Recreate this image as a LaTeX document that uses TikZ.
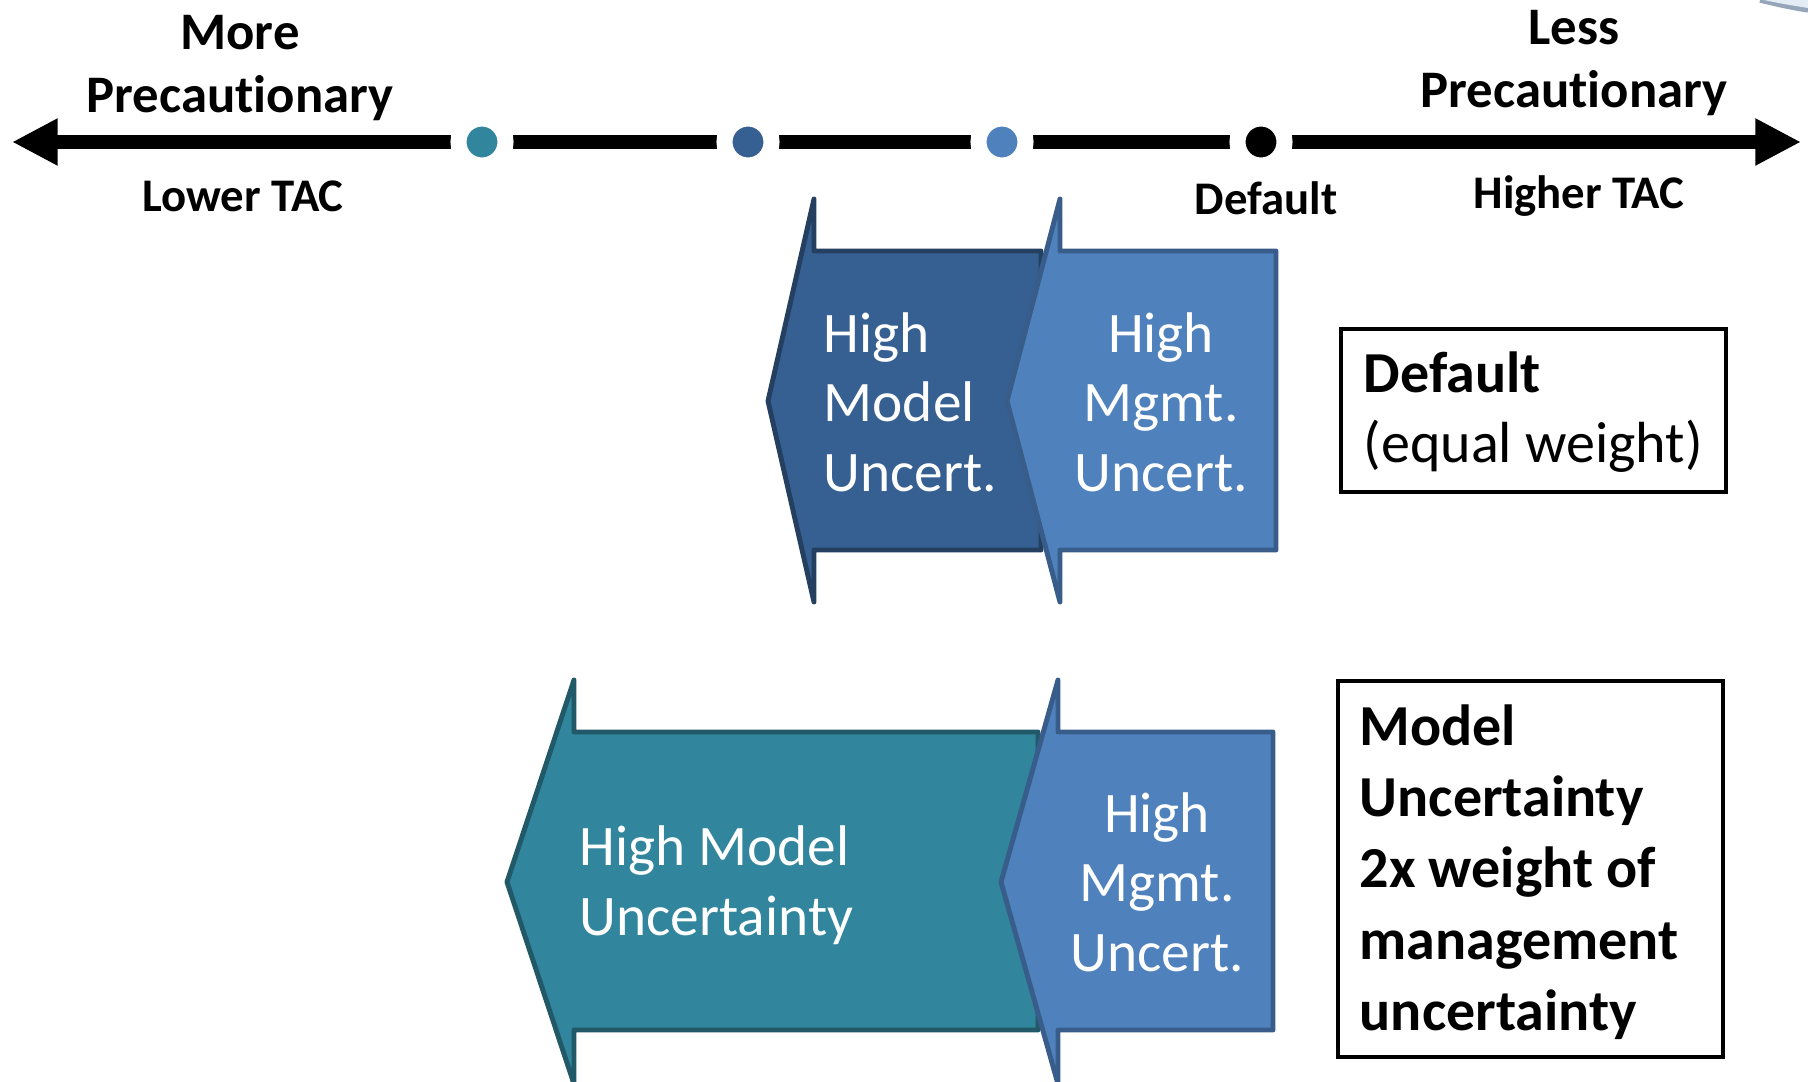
\documentclass[tikz,border=0pt]{standalone}
\usepackage{fontspec}
\setmainfont{Carlito}[RawFeature=-liga]
\usetikzlibrary{arrows.meta}

\definecolor{modelblue}{HTML}{376092}
\definecolor{modelblueedge}{HTML}{243F60}
\definecolor{mgmtblue}{HTML}{4F81BD}
\definecolor{mgmtblueedge}{HTML}{385D8A}
\definecolor{modelteal}{HTML}{31859C}
\definecolor{modeltealedge}{HTML}{215968}

\tikzset{
  axislabel/.style={font=\fontsize{15}{18}\selectfont\bfseries, inner sep=0pt, align=center},
  taclabel/.style={font=\fontsize{13.3}{16}\selectfont\bfseries, inner sep=0pt},
  dot/.style={circle, inner sep=0pt, minimum size=0.47cm, draw=white, line width=0.16cm},
  blockarrow/.style={line width=1.4pt, line join=round},
  arrowtext/.style={font=\fontsize{16.3}{19.8}\selectfont, text=white, inner sep=0pt},
  legendbox/.style={draw=black, line width=1.2pt},
  legendtext/.style={font=\fontsize{16.5}{20}\selectfont, inner sep=0pt, align=left, anchor=west}
}

\begin{document}
\begin{tikzpicture}[x=0.01cm, y=-0.01cm]
      \useasboundingbox (0,0) rectangle (1808,1082);
      \clip (0,0) rectangle (1808,1082);

      % Axis
      \coordinate (lft) at (12,142);
      \coordinate (rgt) at (1801,142);
      \draw[line width=4pt, {Triangle[length=13pt, width=12.5pt]}-{Triangle[length=13pt, width=12.5pt]}] (lft) -- (rgt);
      \node[dot, fill=modelteal] at (482,142) (dteal) {};
      \node[dot, fill=modelblue] at (748,142) (dmodel) {};
      \node[dot, fill=mgmtblue] at (1002,142) (dmgmt) {};
      \node[dot, fill=black] at (1261,142) (ddefault) {};

      \node[axislabel] at (240,68) (more) {More\\Precautionary};
      \node[axislabel] at (1574,63) (less) {Less\\Precautionary};
      \node[taclabel] at (243,196) (lower) {Lower TAC};
      \node[taclabel] at (1579,196) (higher) {Higher TAC};
      \node[taclabel] at (1266,198) (default) {Default};

      % Equal weight row
      \draw[blockarrow, fill=modelblue, draw=modelblueedge] (1041,251) -- (814,251) -- (814,199) -- (768,401) -- (814,602) -- (814,550) -- (1041,550) -- cycle;
      \draw[blockarrow, fill=mgmtblue, draw=mgmtblueedge] (1276,251) -- (1060,251) -- (1060,199) -- (1007,401) -- (1060,602) -- (1060,550) -- (1276,550) -- cycle;
      \node[arrowtext, align=left, anchor=west] at (823,402) (model1) {High\\Model\\Uncert.};
      \node[arrowtext, align=center] at (1161,402) (mgmt1) {High\\Mgmt.\\Uncert.};

      \draw[legendbox] (1341,329) rectangle (1726,492);
      \node[legendtext] at (1363,412) (equal) {\textbf{Default}\\(equal weight)};

      % Double model weight row
      \draw[blockarrow, fill=modelteal, draw=modeltealedge] (1038,732) -- (574,732) -- (574,680) -- (507,882) -- (574,1084) -- (574,1030) -- (1038,1030) -- cycle;
      \draw[blockarrow, fill=mgmtblue, draw=mgmtblueedge] (1273,732) -- (1058,732) -- (1058,680) -- (1001,882) -- (1058,1084) -- (1058,1030) -- (1273,1030) -- cycle;
      \node[arrowtext, align=left, anchor=west] at (579,885) (model2) {High Model\\Uncertainty};
      \node[arrowtext, align=center] at (1157,882) (mgmt2) {High\\Mgmt.\\Uncert.};

      \draw[legendbox] (1338,681) rectangle (1723,1057);
      \node[legendtext, font=\fontsize{16.5}{20.3}\selectfont\bfseries] at (1359,872) (double) {Model\\Uncertainty\\2x weight of\\management\\uncertainty};

      % corner fragment
      \draw[mgmtblue!50!gray!70, line width=1.5pt] (1760,0) .. controls (1780,5) and (1795,8) .. (1808,10);
      \fill[mgmtblue!15] (1764,0) .. controls (1782,4) and (1796,6) .. (1808,8) -- (1808,0) -- cycle;
    \end{tikzpicture}
\end{document}
